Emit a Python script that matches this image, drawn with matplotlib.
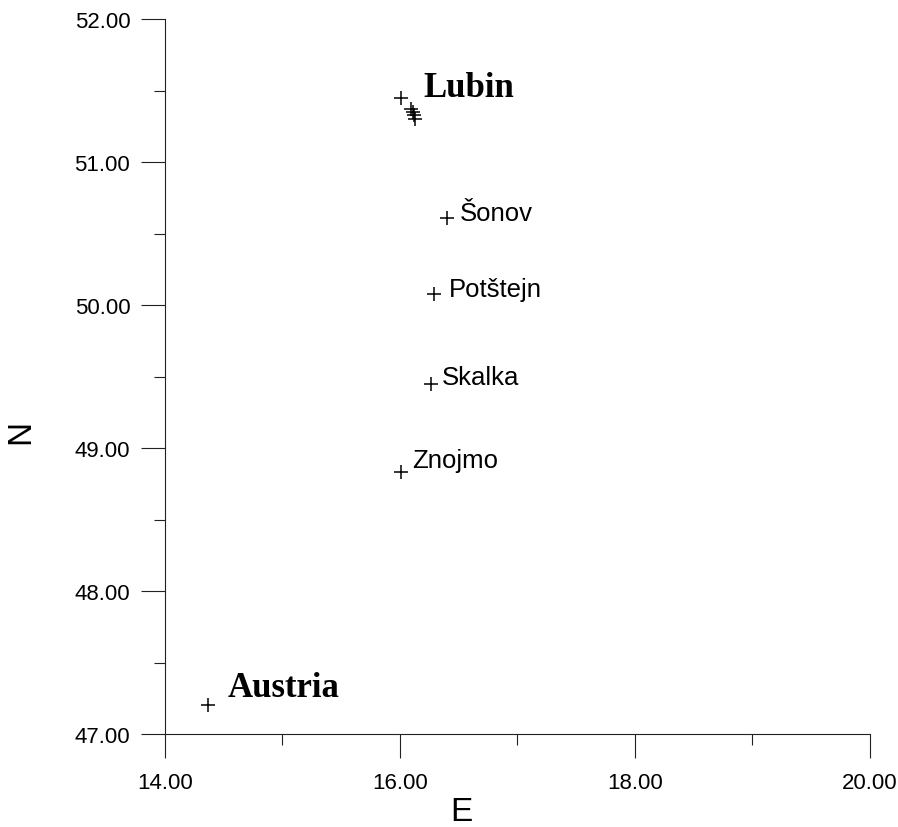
import matplotlib
matplotlib.use("Agg")
import matplotlib.pyplot as plt
from matplotlib.ticker import MultipleLocator, FormatStrFormatter

# data
east = [14.37, 16.01, 16.09, 16.11, 16.12, 16.13, 16.40, 16.29, 16.26, 16.01]
north = [47.20, 51.45, 51.37, 51.35, 51.33, 51.30, 50.61, 50.08, 49.45, 48.83]
label_names = ["Austria", "Lubin", "Šonov", "Potštejn", "Skalka", "Znojmo"]
label_idx = [0, 1, 6, 7, 8, 9]
label_bold = [True, True, False, False, False, False]
label_offsets = [(13.5, 6.5), (16, 1), (9.5, -1.5), (11, -1.5), (8, 0), (8, 3.5)]

fig = plt.figure(figsize=(8.98, 8.28), dpi=100)
ax = fig.add_axes([0.1837, 0.1123, 0.7851, 0.8635])

ax.plot(east, north, linestyle="none", marker="+", markersize=10,
        markeredgewidth=1.1, color="black")

for name, i, bold, off in zip(label_names, label_idx, label_bold, label_offsets):
    if bold:
        kw = dict(family="Liberation Serif", fontweight="bold", fontsize=25)
    else:
        kw = dict(family="Liberation Sans", fontsize=18.5)
    ax.annotate(name, (east[i], north[i]), xytext=off, textcoords="offset points",
                ha="left", va="baseline", **kw)

ax.set_xlim(14, 20)
ax.set_ylim(47, 52)
ax.xaxis.set_major_locator(MultipleLocator(2))
ax.xaxis.set_minor_locator(MultipleLocator(1))
ax.yaxis.set_major_locator(MultipleLocator(1))
ax.yaxis.set_minor_locator(MultipleLocator(0.5))
ax.xaxis.set_major_formatter(FormatStrFormatter("%.2f"))
ax.yaxis.set_major_formatter(FormatStrFormatter("%.2f"))

for s in ["top", "right"]:
    ax.spines[s].set_visible(False)
for s in ["left", "bottom"]:
    ax.spines[s].set_linewidth(0.8)
    ax.spines[s].set_color("#222222")

ax.tick_params(axis="both", which="major", direction="out", length=17, width=0.8,
               color="#222222", labelsize=16, pad=8)
ax.tick_params(axis="x", which="major", pad=10)
ax.tick_params(axis="both", which="minor", direction="out", length=8, width=0.8,
               color="#222222")
for lbl in ax.get_xticklabels() + ax.get_yticklabels():
    lbl.set_family("Liberation Sans")

ax.set_xlabel("E", family="Liberation Sans", fontsize=24)
ax.xaxis.set_label_coords(0.4206, -0.087, transform=ax.transAxes)
ax.xaxis.label.set_va("top")
ax.set_ylabel("N", family="Liberation Sans", fontsize=24)
ax.yaxis.set_label_coords(-0.183, 0.424, transform=ax.transAxes)

fig.savefig("out.png", dpi=100)
